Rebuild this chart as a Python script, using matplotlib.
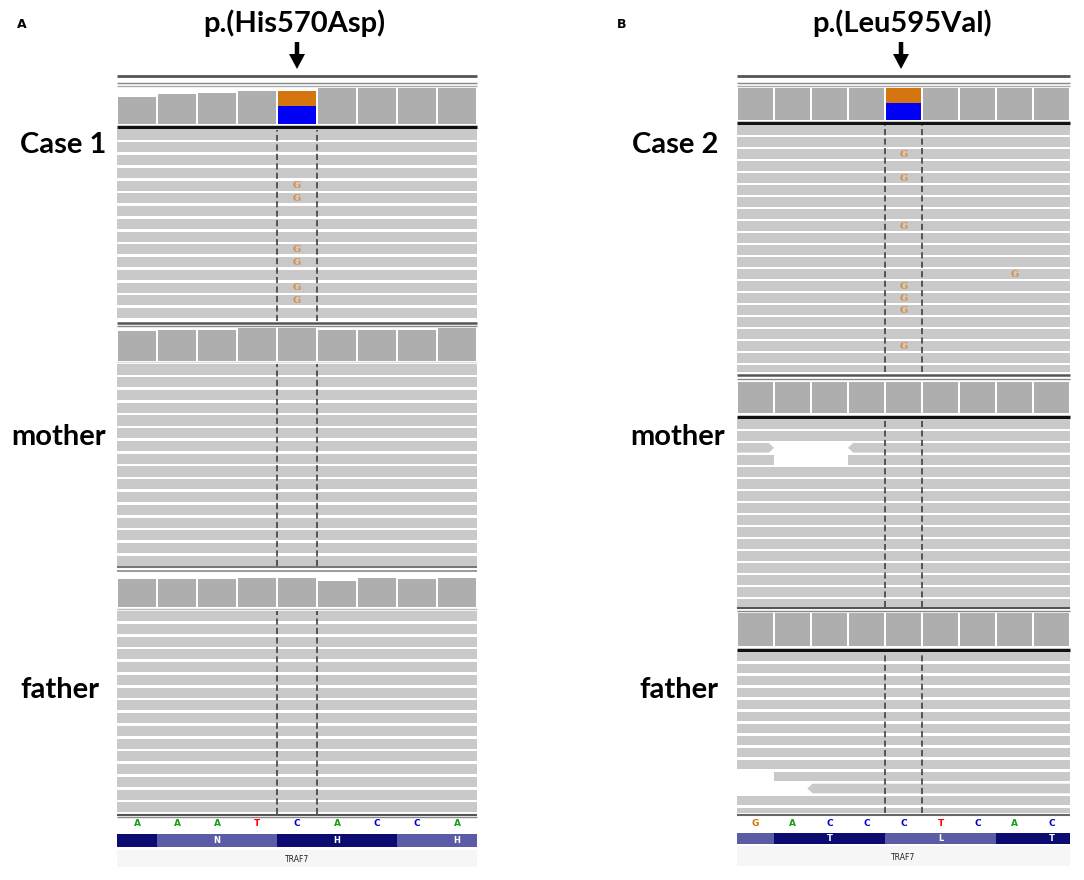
import matplotlib
matplotlib.use("Agg")
import matplotlib.pyplot as plt
from matplotlib.patches import Polygon, FancyArrow

W, H = 1084, 880

# --- data -------------------------------------------------------------
bases_a = ['A', 'A', 'A', 'T', 'C', 'A', 'C', 'C', 'A']
bases_b = ['G', 'A', 'C', 'C', 'C', 'T', 'C', 'A', 'C']
codon_starts = [-2, 1, 4, 7]
amino_a = ['', 'N', 'H', 'H']
amino_b = ['', 'T', 'L', 'T']

variant_idx = 4
cov_case1 = [46, 50, 53, 55, 55, 60, 60, 60, 60]
cov_mother_a = [93, 95, 95, 100, 100, 95, 95, 95, 100]
cov_father_a = [97, 97, 97, 100, 100, 92, 100, 97, 100]
cov_case2 = [100] * 9
cov_mother_b = [100] * 9
cov_father_b = [100] * 9
alt_frac_case1 = 0.45
alt_frac_case2 = 0.47

rows_case1, rows_mother_a, rows_father_a = 15, 16, 16
rows_case2, rows_mother_b, rows_father_b = 21, 16, 14

g_rows_case1 = [4, 5, 9, 10, 12, 13]
g_case2 = [(2, 4), (4, 4), (8, 4), (12, 7), (13, 4), (14, 4), (15, 4), (18, 4)]

# (row, start, end, pointed side) for reads that don't span the window
odd_reads_mother_b = [(2, -1, 1.0, 'R'), (2, 3.0, 10, 'L'),
                      (3, -1, 1.0, ''), (3, 3.0, 10, '')]
odd_reads_father_b = [(10, 1.0, 10, ''), (11, 1.9, 10, 'L')]

# --- style ------------------------------------------------------------
COV = '#aeaeae'
READ = '#c9c9c9'
ALT = '#d4750f'
REF = '#0000f5'
NT_COL = {'A': '#13a013', 'C': '#0000c8', 'G': '#d17105', 'T': '#ff0000'}
DARK_AA = '#0b0b72'
LIGHT_AA = '#5b5ba6'
LABEL_FONT = 'Lato'

fig = plt.figure(figsize=(W / 100, H / 100), dpi=100)
over = fig.add_axes([0, 0, 1, 1])
over.set_xlim(0, W)
over.set_ylim(H, 0)
over.set_axis_off()


def px_axes(x0, y0, x1, y1):
    ax = fig.add_axes([x0 / W, 1 - y1 / H, (x1 - x0) / W, (y1 - y0) / H])
    ax.set_axis_off()
    ax.set_xlim(0, 9)
    return ax


def coverage(x0, x1, y0, y1, depth, alt_frac=None):
    ax = px_axes(x0, y0, x1, y1)
    ax.set_ylim(0, max(depth))
    xs = [i + 0.5 for i in range(9)]
    cols = [COV] * 9
    if alt_frac is not None:
        cols[variant_idx] = REF
    ax.bar(xs, depth, width=0.96, color=cols, linewidth=0)
    if alt_frac is not None:
        d = depth[variant_idx]
        ax.bar(variant_idx + 0.5, d * alt_frac, bottom=d * (1 - alt_frac),
               width=0.96, color=ALT, linewidth=0)
    return ax


def read_poly(row, start, end, side, h=0.8, tip=0.14):
    top, bot, mid = row, row + h, row + h / 2
    if side == 'R':
        pts = [(start, top), (end - tip, top), (end, mid), (end - tip, bot), (start, bot)]
    elif side == 'L':
        pts = [(start + tip, top), (end, top), (end, bot), (start + tip, bot), (start, mid)]
    else:
        pts = [(start, top), (end, top), (end, bot), (start, bot)]
    return Polygon(pts, closed=True, facecolor=READ, edgecolor='none')


def reads(x0, x1, y0, y1, pitch, n_rows, odd=(), g_marks=()):
    ax = px_axes(x0, y0, x1, y1)
    ax.set_ylim((y1 - y0) / pitch, 0)
    odd_rows = {r for r, *_ in odd}
    full = [r for r in range(n_rows) if r not in odd_rows]
    ax.barh([r + 0.4 for r in full], 11, left=-1, height=0.8, color=READ, linewidth=0)
    for r, s, e, side in odd:
        ax.add_patch(read_poly(r, s, e, side))
    for r, b in g_marks:
        ax.text(b + 0.5, r + 0.42, 'G', color='#d68d3c', fontsize=7,
                ha='center', va='center', family='DejaVu Serif', fontweight='bold')
    for xv in (variant_idx, variant_idx + 1):
        ax.axvline(xv, color='#333333', lw=1.1, linestyle=(0, (4, 2.2)))
    return ax


def sequence(x0, x1, y0, y1, bases, amino, dark_first, aa_y, band):
    ax = px_axes(x0, y0, x1, y1)
    ax.set_ylim(1, 0)
    for i, b in enumerate(bases):
        ax.text(i + 0.5, 0.5, b, color=NT_COL[b], fontsize=6.5, fontweight='bold',
                ha='center', va='center')
    ax2 = px_axes(x0, aa_y[0], x1, aa_y[1])
    ax2.set_ylim(1, 0)
    for k, (s, lab) in enumerate(zip(codon_starts, amino)):
        dark = (k % 2 == 0) == dark_first
        ax2.barh(0.5, 3, left=s, height=1, color=DARK_AA if dark else LIGHT_AA, linewidth=0)
        if lab:
            ax2.text(s + 1.5, 0.5, lab, color='white', fontsize=6, fontweight='bold',
                     ha='center', va='center')
    over.fill_between([x0, x1], band[0], band[1], color='#f6f6f6', lw=0)
    over.text((x0 + x1) / 2, (band[0] + band[1]) / 2 + 1, 'TRAF7', fontsize=5.5,
              ha='center', va='center', color='#222222')


def hline(x0, x1, y, color, lw):
    over.plot([x0, x1], [y, y], color=color, lw=lw, solid_capstyle='butt')


# --- panel A ----------------------------------------------------------
ax0, ax1 = 117, 477
pa = 12.75
hline(ax0, ax1, 76, '#555555', 2)
hline(ax0, ax1, 83.5, '#888888', 1)
hline(ax0, ax1, 86.3, '#aaaaaa', 1)
coverage(ax0, ax1, 88.3, 124.5, cov_case1, alt_frac_case1)
hline(ax0, ax1, 127.3, '#111111', 2.5)
reads(ax0, ax1, 129.5, 320.5, pa, rows_case1, g_marks=[(r, variant_idx) for r in g_rows_case1])
hline(ax0, ax1, 322.8, '#555555', 1.8)
hline(ax0, ax1, 325.8, '#888888', 1)
coverage(ax0, ax1, 328.3, 360.7, cov_mother_a)
hline(ax0, ax1, 362.5, '#e0e0e0', 1)
reads(ax0, ax1, 364.5, 566, pa, rows_mother_a)
hline(ax0, ax1, 567.3, '#777777', 1.5)
hline(ax0, ax1, 571.3, '#888888', 1.2)
coverage(ax0, ax1, 578.3, 607.3, cov_father_a)
hline(ax0, ax1, 609.3, '#bbbbbb', 1)
reads(ax0, ax1, 611, 813.5, pa, rows_father_a)
hline(ax0, ax1, 815, '#555555', 1.5)
hline(ax0, ax1, 817.5, '#888888', 1)
sequence(ax0, ax1, 817, 830, bases_a, amino_a, True, (834, 847), (850, 867))

# --- panel B ----------------------------------------------------------
bx0, bx1 = 737, 1070
pb = 12.0
hline(bx0, bx1, 76, '#555555', 2)
hline(bx0, bx1, 82.7, '#888888', 1)
hline(bx0, bx1, 86, '#aaaaaa', 1)
coverage(bx0, bx1, 88.3, 120, cov_case2, alt_frac_case2)
hline(bx0, bx1, 123.3, '#111111', 2.5)
reads(bx0, bx1, 125.5, 372, pb, rows_case2, g_marks=g_case2)
hline(bx0, bx1, 375, '#555555', 1.8)
hline(bx0, bx1, 379.2, '#888888', 1)
coverage(bx0, bx1, 381.7, 412.7, cov_mother_b)
hline(bx0, bx1, 416.7, '#111111', 2.5)
reads(bx0, bx1, 419, 607, pb, rows_mother_b, odd=odd_reads_mother_b)
hline(bx0, bx1, 608.3, '#555555', 1.5)
hline(bx0, bx1, 610.8, '#888888', 1)
coverage(bx0, bx1, 613, 646, cov_father_b)
hline(bx0, bx1, 649.7, '#111111', 2.5)
reads(bx0, bx1, 651.7, 813, pb, rows_father_b, odd=odd_reads_father_b)
hline(bx0, bx1, 815, '#666666', 1.5)
sequence(bx0, bx1, 816, 830, bases_b, amino_b, False, (833, 843.5), (846, 866))

# --- labels -----------------------------------------------------------
lab_kw = dict(fontsize=21, fontweight='bold', family=LABEL_FONT, ha='center', va='center')
over.text(63, 145, 'Case 1', **lab_kw)
over.text(59, 437, 'mother', **lab_kw)
over.text(60, 690, 'father', **lab_kw)
over.text(675, 145, 'Case 2', **lab_kw)
over.text(678, 437, 'mother', **lab_kw)
over.text(679, 690, 'father', **lab_kw)
over.text(294, 23, 'p.(His570Asp)', **lab_kw)
over.text(902, 23, 'p.(Leu595Val)', **lab_kw)
over.text(22, 25, 'A', fontsize=9, fontweight='bold', ha='center', va='center')
over.text(622, 25, 'B', fontsize=9, fontweight='bold', ha='center', va='center')
for xa in (297, 901):
    over.add_patch(FancyArrow(xa, 42, 0, 27, width=4.5, head_width=16, head_length=15,
                              length_includes_head=True, color='black', lw=0))

fig.savefig('out.png', dpi=100)
